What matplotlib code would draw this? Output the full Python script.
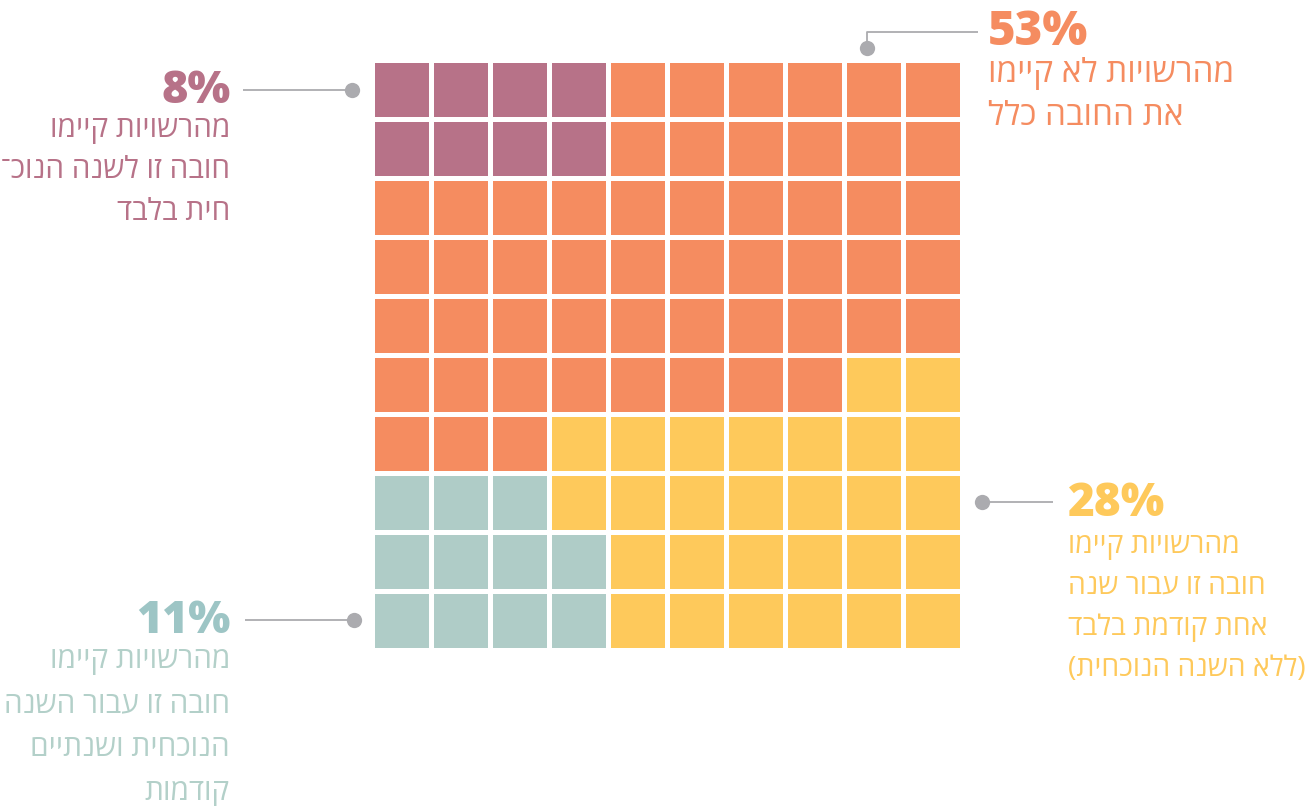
import matplotlib.pyplot as plt
from matplotlib.patches import Rectangle

# waffle grid, one letter per cell, rows from top to bottom
# P = this year only, O = not at all, Y = one previous year, T = this year + two previous
grid_rows = [
    'PPPPOOOOOO',
    'PPPPOOOOOO',
    'OOOOOOOOOO',
    'OOOOOOOOOO',
    'OOOOOOOOOO',
    'OOOOOOOOYY',
    'OOOYYYYYYY',
    'TTTYYYYYYY',
    'TTTTYYYYYY',
    'TTTTYYYYYY',
]

cell_colors = {'P': '#B77288', 'O': '#F58C60', 'Y': '#FEC95B', 'T': '#AFCCC7'}
num_colors = {'P': '#B77288', 'O': '#F58C60', 'Y': '#FEC95B', 'T': '#9DC5C5'}
text_colors = {'P': '#B77288', 'O': '#F58C60', 'Y': '#FEC95B', 'T': '#B3D0C9'}

percents = {'P': '8%', 'O': '53%', 'Y': '28%', 'T': '11%'}
labels = {
    'P': ['מהרשויות קיימו', 'חובה זו לשנה הנוכ־', 'חית בלבד'],
    'O': ['מהרשויות לא קיימו', 'את החובה כלל'],
    'Y': ['מהרשויות קיימו', 'חובה זו עבור שנה', 'אחת קודמת בלבד', '(ללא השנה הנוכחית)'],
    'T': ['מהרשויות קיימו', 'חובה זו עבור השנה', 'הנוכחית ושנתיים', 'קודמות'],
}

line_gray = '#ABABAF'
heb_font = ['Open Sans', 'DejaVu Sans']


def rtl(s):
    # matplotlib has no bidi, so flip the string and mirror the brackets
    return s[::-1].translate(str.maketrans('()', ')('))


fig = plt.figure(figsize=(13.1, 8.06), dpi=100)
ax = fig.add_axes([0, 0, 1, 1])
ax.set_xlim(0, 1310)
ax.set_ylim(806, 0)
ax.axis('off')

# grid geometry in pixels
x0, y0 = 375, 63
pitch, size = 59, 54

for r, row in enumerate(grid_rows):
    for c, cat in enumerate(row):
        ax.add_patch(Rectangle((x0 + c * pitch, y0 + r * pitch), size, size,
                               facecolor=cell_colors[cat], edgecolor='none'))

# connector lines with dots
def connector(xs, ys, dot):
    ax.plot(xs, ys, color=line_gray, lw=1.3, solid_capstyle='butt')
    ax.plot(*dot, 'o', color=line_gray, ms=11, mec='none')

connector([243, 352], [90, 90], (352, 90))
connector([867, 867, 978], [48, 32, 32], (867, 48))
connector([982, 1053], [502, 502], (982, 502))
connector([245, 354], [620, 620], (354, 620))

# annotation blocks: category, x, number baseline, alignment, first line offset,
# line spacing, number size, text size
blocks = [
    ('P', 230, 103, 'right', 34, 41.5, 32.5, 21.5),
    ('O', 988, 45, 'left', 37, 43, 34, 24),
    ('Y', 1068, 516, 'left', 37, 41, 33, 20.5),
    ('T', 230, 633, 'right', 35, 44, 32, 21.5),
]

for cat, x, yb, ha, off, step, nsize, tsize in blocks:
    ax.text(x + (1 if ha == 'right' else 0), yb, percents[cat], ha=ha, va='baseline',
            fontsize=nsize, fontweight='heavy', family=['Open Sans', 'DejaVu Sans'],
            color=num_colors[cat])
    for i, line in enumerate(labels[cat]):
        ax.text(x, yb + off + i * step, rtl(line), ha=ha, va='baseline',
                fontsize=tsize, family=heb_font, color=text_colors[cat])

fig.savefig('out.png', dpi=100, facecolor='white')
